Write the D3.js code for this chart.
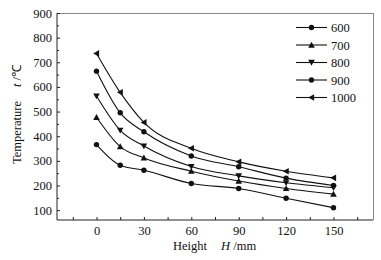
<!DOCTYPE html>
<html>
<head>
<meta charset="utf-8">
<script src="https://cdn.jsdelivr.net/npm/d3@7"></script>
<style>
  body { margin: 0; background: #fff; }
  svg { display: block; }
  svg text { font-family: "Liberation Serif", "Times New Roman", serif; font-size: 12.5px; fill: #111; }
</style>
</head>
<body>
<svg width="381" height="260"></svg>
<script>
"use strict";

// 높이 (mm)
const heights = [0, 15, 30, 60, 90, 120, 150];
const seriesNames = ["600", "700", "800", "900", "1000"];
const t600 = [366, 282, 262, 208, 188, 148, 110];
const t700 = [477, 358, 312, 258, 218, 188, 165];
const t800 = [563, 424, 360, 277, 239, 211, 191];
const t900 = [664, 495, 418, 320, 276, 230, 200];
const t1000 = [736, 578, 456, 351, 296, 258, 231];
const seriesValues = [t600, t700, t800, t900, t1000];
const symbols = ["circle", "up", "down", "circle", "left"];
const xTicks = [0, 30, 60, 90, 120, 150];
const yTicks = [100, 200, 300, 400, 500, 600, 700, 800, 900];

const svg = d3.select("svg");
const mLeft = 57, mRight = 373, mTop = 13, mBottom = 220;

const x = d3.scaleLinear().domain([-25, 175]).range([mLeft, mRight]);
const y = d3.scaleLinear().domain([60, 900]).range([mBottom, mTop]);

// 프레임 (위, 오른쪽은 회색)
svg.append("line").attr("x1", mLeft).attr("x2", mRight).attr("y1", mTop + 0.5).attr("y2", mTop + 0.5)
  .attr("stroke", "#888").attr("stroke-width", 1);
svg.append("line").attr("x1", mRight + 0.5).attr("x2", mRight + 0.5).attr("y1", mTop).attr("y2", mBottom)
  .attr("stroke", "#888").attr("stroke-width", 1);

// x축 (눈금은 안쪽)
svg.append("g").attr("transform", `translate(0,${mBottom})`)
  .call(d3.axisBottom(x).tickValues(d3.range(-15, 175, 15)).tickSize(-3).tickFormat(""))
  .call((g) => g.select(".domain").remove());
svg.append("g").attr("transform", `translate(0,${mBottom})`)
  .call(d3.axisBottom(x).tickValues(xTicks).tickSize(0).tickPadding(6))
  .call((g) => g.select(".domain").remove());

// y축
svg.append("g").attr("transform", `translate(${mLeft},0)`)
  .call(d3.axisLeft(y).tickValues(d3.range(150, 900, 100)).tickSize(-2).tickFormat(""))
  .call((g) => g.select(".domain").remove());
svg.append("g").attr("transform", `translate(${mLeft},0)`)
  .call(d3.axisLeft(y).tickValues(yTicks).tickSize(-3).tickPadding(2))
  .call((g) => g.select(".domain").remove())
  .call((g) => g.selectAll("text").attr("dx", -3));

svg.selectAll("g").attr("font-family", null).attr("font-size", null);
svg.selectAll(".tick line").attr("stroke", "#222");

svg.append("line").attr("x1", mLeft).attr("x2", mRight).attr("y1", mBottom).attr("y2", mBottom)
  .attr("stroke", "#222");
svg.append("line").attr("x1", mLeft).attr("x2", mLeft).attr("y1", mTop).attr("y2", mBottom)
  .attr("stroke", "#222");

// 축 제목
svg.append("text").attr("x", 173).attr("y", 250)
  .html('Height<tspan dx="14" font-style="italic">H</tspan><tspan> /mm</tspan>');
svg.append("text").attr("transform", "translate(21,164) rotate(-90)")
  .html('Temperature<tspan dx="14" font-style="italic">t</tspan><tspan> /℃</tspan>');

// 마커 그리기
function drawMarker(g, type, cx, cy) {
  if (type === "circle") {
    g.append("circle").attr("cx", cx).attr("cy", cy).attr("r", 2.7).attr("fill", "#111");
  } else {
    const s = 3.3;
    let pts;
    if (type === "up") pts = [[cx, cy - s], [cx - s, cy + s * 0.8], [cx + s, cy + s * 0.8]];
    if (type === "down") pts = [[cx, cy + s], [cx - s, cy - s * 0.8], [cx + s, cy - s * 0.8]];
    if (type === "left") pts = [[cx - s, cy], [cx + s * 0.8, cy - s], [cx + s * 0.8, cy + s]];
    g.append("polygon").attr("points", pts.map((p) => p.join(",")).join(" ")).attr("fill", "#111");
  }
}

const line = d3.line()
  .x((d, i) => x(heights[i]))
  .y((d) => y(d))
  .curve(d3.curveMonotoneX);

seriesValues.forEach((vals, k) => {
  const g = svg.append("g");
  g.append("path").attr("d", line(vals)).attr("fill", "none").attr("stroke", "#111").attr("stroke-width", 1.1);
  vals.forEach((v, i) => drawMarker(g, symbols[k], x(heights[i]), y(v)));
});

// 범례
seriesNames.forEach((name, k) => {
  const ly = 27.5 + k * 17.5;
  const g = svg.append("g");
  g.append("line").attr("x1", 296).attr("x2", 327).attr("y1", ly).attr("y2", ly)
    .attr("stroke", "#111").attr("stroke-width", 1.1);
  drawMarker(g, symbols[k], 311.5, ly);
  g.append("text").attr("x", 331).attr("y", ly + 4.5).text(name);
});
</script>
</body>
</html>
